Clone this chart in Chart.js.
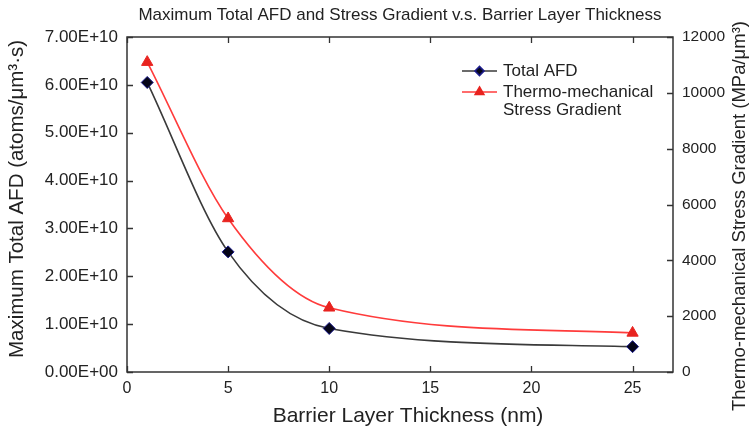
<!DOCTYPE html>
<html>
<head>
<meta charset="utf-8">
<script src="https://cdn.jsdelivr.net/npm/chart.js@4/dist/chart.umd.min.js"></script>
<style>
  html, body { margin: 0; padding: 0; background: #ffffff; }
  #wrap { width: 754px; height: 438px; }
</style>
</head>
<body>
<div id="wrap"><canvas id="c" width="754" height="438"></canvas></div>
<script>
// Barrier layer thickness (nm)
const thickness = [1, 5, 10, 25];
// Maximum total atomic flux divergence (atoms/um^3.s)
const totalAFD = [6.05e10, 2.51e10, 0.91e10, 0.53e10];
// Thermo-mechanical stress gradient (MPa/um^3)
const stressGradient = [11100, 5500, 2300, 1400];

const xTicks = [0, 5, 10, 15, 20, 25];
const afdTicks = [0, 1e10, 2e10, 3e10, 4e10, 5e10, 6e10, 7e10];
const afdTickLabels = ['0.00E+00', '1.00E+10', '2.00E+10', '3.00E+10', '4.00E+10', '5.00E+10', '6.00E+10', '7.00E+10'];
const stressTicks = [0, 2000, 4000, 6000, 8000, 10000, 12000];

const seriesLabels = [['Total AFD'], ['Thermo-mechanical', 'Stress Gradient']];
const chartTitle = 'Maximum Total AFD and Stress Gradient v.s. Barrier Layer Thickness';
const xTitle = 'Barrier Layer Thickness (nm)';
const yTitle = 'Maximum Total AFD (atoms/μm³·s)';
const y2Title = 'Thermo-mechanical Stress Gradient (MPa/μm³)';

const FONT = '"Liberation Sans", Arial, sans-serif';
const INK = '#222';

// Plot title and the three axis titles
const titlesPlugin = {
  id: 'titles',
  afterDraw(chart) {
    const { ctx, chartArea: a } = chart;
    ctx.save();
    ctx.fillStyle = INK;
    ctx.textAlign = 'center';
    ctx.textBaseline = 'middle';

    ctx.font = '17px ' + FONT;
    ctx.fillText(chartTitle, (a.left + a.right) / 2, 15);

    ctx.font = '21px ' + FONT;
    ctx.fillText(xTitle, 408, 416);

    ctx.save();
    ctx.translate(17, 199);
    ctx.rotate(-Math.PI / 2);
    ctx.font = '20.5px ' + FONT;
    ctx.fillText(yTitle, 0, 0);
    ctx.restore();

    ctx.save();
    ctx.translate(740, 216);
    ctx.rotate(-Math.PI / 2);
    ctx.font = '18.5px ' + FONT;
    ctx.fillText(y2Title, 0, 0);
    ctx.restore();

    ctx.restore();
  }
};

// Box frame with inward-pointing tick marks on every side
const framePlugin = {
  id: 'frame',
  afterDatasetsDraw(chart) {
    const { ctx, chartArea: a, scales } = chart;
    const len = 6;
    ctx.save();
    ctx.strokeStyle = '#333';
    ctx.lineWidth = 1.3;
    ctx.beginPath();
    scales.x.ticks.forEach(t => {
      const px = Math.round(scales.x.getPixelForValue(t.value)) + 0.5;
      ctx.moveTo(px, a.bottom); ctx.lineTo(px, a.bottom - len);
      ctx.moveTo(px, a.top); ctx.lineTo(px, a.top + len);
    });
    scales.y.ticks.forEach(t => {
      const py = Math.round(scales.y.getPixelForValue(t.value)) + 0.5;
      ctx.moveTo(a.left, py); ctx.lineTo(a.left + len, py);
    });
    scales.y2.ticks.forEach(t => {
      const py = Math.round(scales.y2.getPixelForValue(t.value)) + 0.5;
      ctx.moveTo(a.right, py); ctx.lineTo(a.right - len, py);
    });
    ctx.stroke();
    ctx.lineWidth = 1.5;
    ctx.strokeRect(a.left, a.top, a.right - a.left, a.bottom - a.top);
    ctx.restore();
  }
};

// Legend inside the plot: line sample with marker, then (multi-line) label
const legendPlugin = {
  id: 'insideLegend',
  afterDraw(chart) {
    const { ctx } = chart;
    const x0 = 462, x1 = 497, tx = 503;
    let y = 71;
    ctx.save();
    ctx.font = '17px ' + FONT;
    ctx.textBaseline = 'middle';
    ctx.textAlign = 'left';
    chart.data.datasets.forEach(ds => {
      ctx.strokeStyle = ds.borderColor;
      ctx.lineWidth = ds.borderWidth;
      ctx.beginPath();
      ctx.moveTo(x0, y); ctx.lineTo(x1, y);
      ctx.stroke();
      ctx.fillStyle = ds.pointBackgroundColor;
      ctx.strokeStyle = ds.pointBorderColor;
      Chart.helpers.drawPoint(ctx, {
        pointStyle: ds.pointStyle, radius: ds.pointRadius - 1.5,
        rotation: 0, borderWidth: 1
      }, (x0 + x1) / 2, y);
      ctx.fillStyle = INK;
      ds.label.forEach((line, i) => ctx.fillText(line, tx, y + i * 18));
      y += 21 + (ds.label.length - 1) * 18;
    });
    ctx.restore();
  }
};

new Chart(document.getElementById('c'), {
  type: 'line',
  data: {
    datasets: [
      {
        label: seriesLabels[0],
        data: thickness.map((t, i) => ({ x: t, y: totalAFD[i] })),
        yAxisID: 'y',
        borderColor: '#3a3a3a',
        borderWidth: 1.6,
        cubicInterpolationMode: 'monotone',
        pointStyle: 'rectRot',
        pointRadius: 6,
        pointBackgroundColor: '#050518',
        pointBorderColor: '#1c1c8c',
        pointBorderWidth: 1
      },
      {
        label: seriesLabels[1],
        data: thickness.map((t, i) => ({ x: t, y: stressGradient[i] })),
        yAxisID: 'y2',
        borderColor: '#ff3b3b',
        borderWidth: 1.6,
        cubicInterpolationMode: 'monotone',
        pointStyle: 'triangle',
        pointRadius: 6.5,
        pointBackgroundColor: '#e8231f',
        pointBorderColor: '#e8231f',
        pointBorderWidth: 1
      }
    ]
  },
  options: {
    responsive: false,
    animation: false,
    layout: { padding: { top: 37, left: 0, right: 0, bottom: 0 } },
    plugins: { legend: { display: false }, title: { display: false }, tooltip: { enabled: false } },
    scales: {
      x: {
        type: 'linear',
        min: 0, max: 27,
        afterBuildTicks: s => { s.ticks = xTicks.map(v => ({ value: v })); },
        afterFit: s => { s.height = 66; },
        grid: { display: false, drawTicks: false },
        border: { display: false },
        ticks: { color: INK, font: { family: FONT, size: 16 }, padding: 7,
                 callback: v => String(v) }
      },
      y: {
        type: 'linear', position: 'left',
        min: 0, max: 7e10,
        afterBuildTicks: s => { s.ticks = afdTicks.map(v => ({ value: v })); },
        afterFit: s => { s.width = 127; },
        grid: { display: false, drawTicks: false },
        border: { display: false },
        ticks: { color: INK, font: { family: FONT, size: 17 }, padding: 9,
                 callback: (v, i) => afdTickLabels[i] }
      },
      y2: {
        type: 'linear', position: 'right',
        min: 0, max: 12000,
        afterBuildTicks: s => { s.ticks = stressTicks.map(v => ({ value: v })); },
        afterFit: s => { s.width = 81; },
        grid: { display: false, drawTicks: false },
        border: { display: false },
        ticks: { color: INK, font: { family: FONT, size: 15.5 }, padding: 9,
                 callback: v => String(v) }
      }
    }
  },
  plugins: [titlesPlugin, framePlugin, legendPlugin]
});
</script>
</body>
</html>
